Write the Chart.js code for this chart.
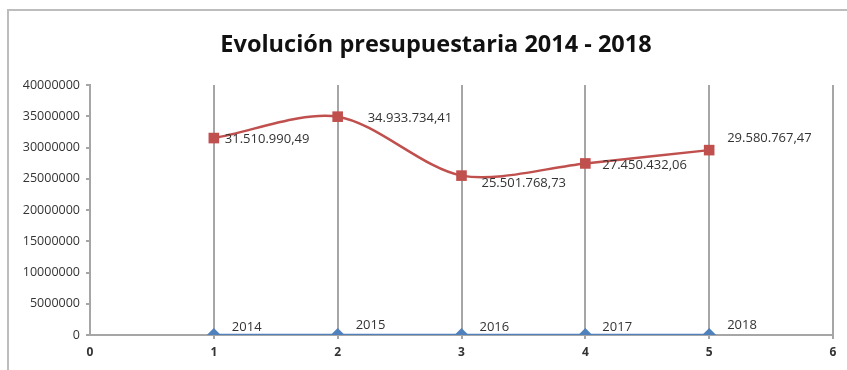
<!DOCTYPE html>
<html lang="es">
<head>
<meta charset="utf-8">
<title>Evolución presupuestaria 2014 - 2018</title>
<script src="https://cdn.jsdelivr.net/npm/chart.js@4/dist/chart.umd.min.js"></script>
<style>
  html, body { margin: 0; padding: 0; background: #fff; }
  #wrap { width: 847px; height: 370px; position: relative; }
</style>
</head>
<body>
<div id="wrap"><canvas id="presupuesto" width="847" height="370"></canvas></div>
<script>
// Datos del gráfico
const posiciones = [1, 2, 3, 4, 5];
const anios = [2014, 2015, 2016, 2017, 2018];
const presupuesto = [31510990.49, 34933734.41, 25501768.73, 27450432.06, 29580767.47];
const ticksY = [0, 5000000, 10000000, 15000000, 20000000, 25000000, 30000000, 35000000, 40000000];

// Desplazamiento de las etiquetas respecto a cada punto (px)
const offsetPresupuesto = [[11, 1], [30, 2], [20, 8], [17, 2], [18, -12]];
const offsetAnios = [[18, -8], [18, -10], [18, -8], [17, -8], [18, -10]];

const ROJO = '#C0504D';
const AZUL = '#4F81BD';
const GRIS = '#A6A6A6';
const TEXTO = '#333333';

// 31510990.49 -> "31.510.990,49"
function formatoES(v) {
    const partes = v.toFixed(2).split('.');
    const entero = partes[0].replace(/\B(?=(\d{3})+(?!\d))/g, '.');
    return entero + ',' + partes[1];
}

// Marco, título y etiquetas de datos
const extras = {
    id: 'extras',
    beforeDraw(chart) {
        const ctx = chart.ctx;
        ctx.save();
        ctx.strokeStyle = '#BDBDBD';
        ctx.lineWidth = 2;
        ctx.beginPath();
        ctx.moveTo(8, 370);
        ctx.lineTo(8, 10);
        ctx.lineTo(847, 10);
        ctx.stroke();

        ctx.fillStyle = '#111111';
        ctx.font = 'bold 23.5px "Open Sans", sans-serif';
        ctx.textAlign = 'center';
        ctx.textBaseline = 'middle';
        ctx.fillText('Evolución presupuestaria 2014 - 2018', 436, 45);
        ctx.restore();
    },
    afterDatasetsDraw(chart) {
        const ctx = chart.ctx;
        ctx.save();
        ctx.fillStyle = TEXTO;
        ctx.font = '13px "Open Sans", sans-serif';
        ctx.textAlign = 'left';
        ctx.textBaseline = 'middle';
        chart.getDatasetMeta(0).data.forEach((p, i) => {
            const o = offsetPresupuesto[i];
            ctx.fillText(formatoES(presupuesto[i]), p.x + o[0], p.y + o[1]);
        });
        chart.getDatasetMeta(1).data.forEach((p, i) => {
            const o = offsetAnios[i];
            ctx.fillText(String(anios[i]), p.x + o[0], p.y + o[1]);
        });
        ctx.restore();
    }
};

new Chart(document.getElementById('presupuesto'), {
    type: 'line',
    data: {
        datasets: [{
            label: 'Presupuesto',
            data: posiciones.map((x, i) => ({ x: x, y: presupuesto[i] })),
            borderColor: ROJO,
            backgroundColor: ROJO,
            borderWidth: 2.5,
            tension: 0.3,
            pointStyle: 'rect',
            pointRadius: 7.5,
            pointBorderWidth: 0
        }, {
            label: 'Año',
            data: posiciones.map((x, i) => ({ x: x, y: anios[i] })),
            borderColor: AZUL,
            backgroundColor: AZUL,
            borderWidth: 2.5,
            pointStyle: 'rectRot',
            pointRadius: 7,
            pointBorderWidth: 0
        }]
    },
    options: {
        responsive: false,
        animation: false,
        layout: { padding: { top: 85, right: 14, bottom: 0, left: 0 } },
        plugins: {
            legend: { display: false },
            title: { display: false },
            tooltip: { enabled: false }
        },
        scales: {
            x: {
                type: 'linear',
                min: 0,
                max: 6,
                afterFit(s) { s.height = 35; },
                ticks: {
                    stepSize: 1,
                    color: TEXTO,
                    padding: 6,
                    font: { family: '"Open Sans", sans-serif', size: 12, weight: 'bold' }
                },
                grid: {
                    color: ctx => ctx.tick && ctx.tick.value === 0 ? 'rgba(0,0,0,0)' : GRIS,
                    lineWidth: 2,
                    tickLength: 4
                },
                border: { color: GRIS, width: 2 }
            },
            y: {
                min: 0,
                max: 40000000,
                afterFit(s) { s.width = 90; },
                afterBuildTicks(s) { s.ticks = ticksY.map(v => ({ value: v })); },
                ticks: {
                    color: TEXTO,
                    padding: 6,
                    font: { family: '"Open Sans", sans-serif', size: 12.5 },
                    callback: v => String(v)
                },
                grid: {
                    drawOnChartArea: false,
                    color: GRIS,
                    lineWidth: 2,
                    tickLength: 4
                },
                border: { color: GRIS, width: 2 }
            }
        }
    },
    plugins: [extras]
});
</script>
</body>
</html>
